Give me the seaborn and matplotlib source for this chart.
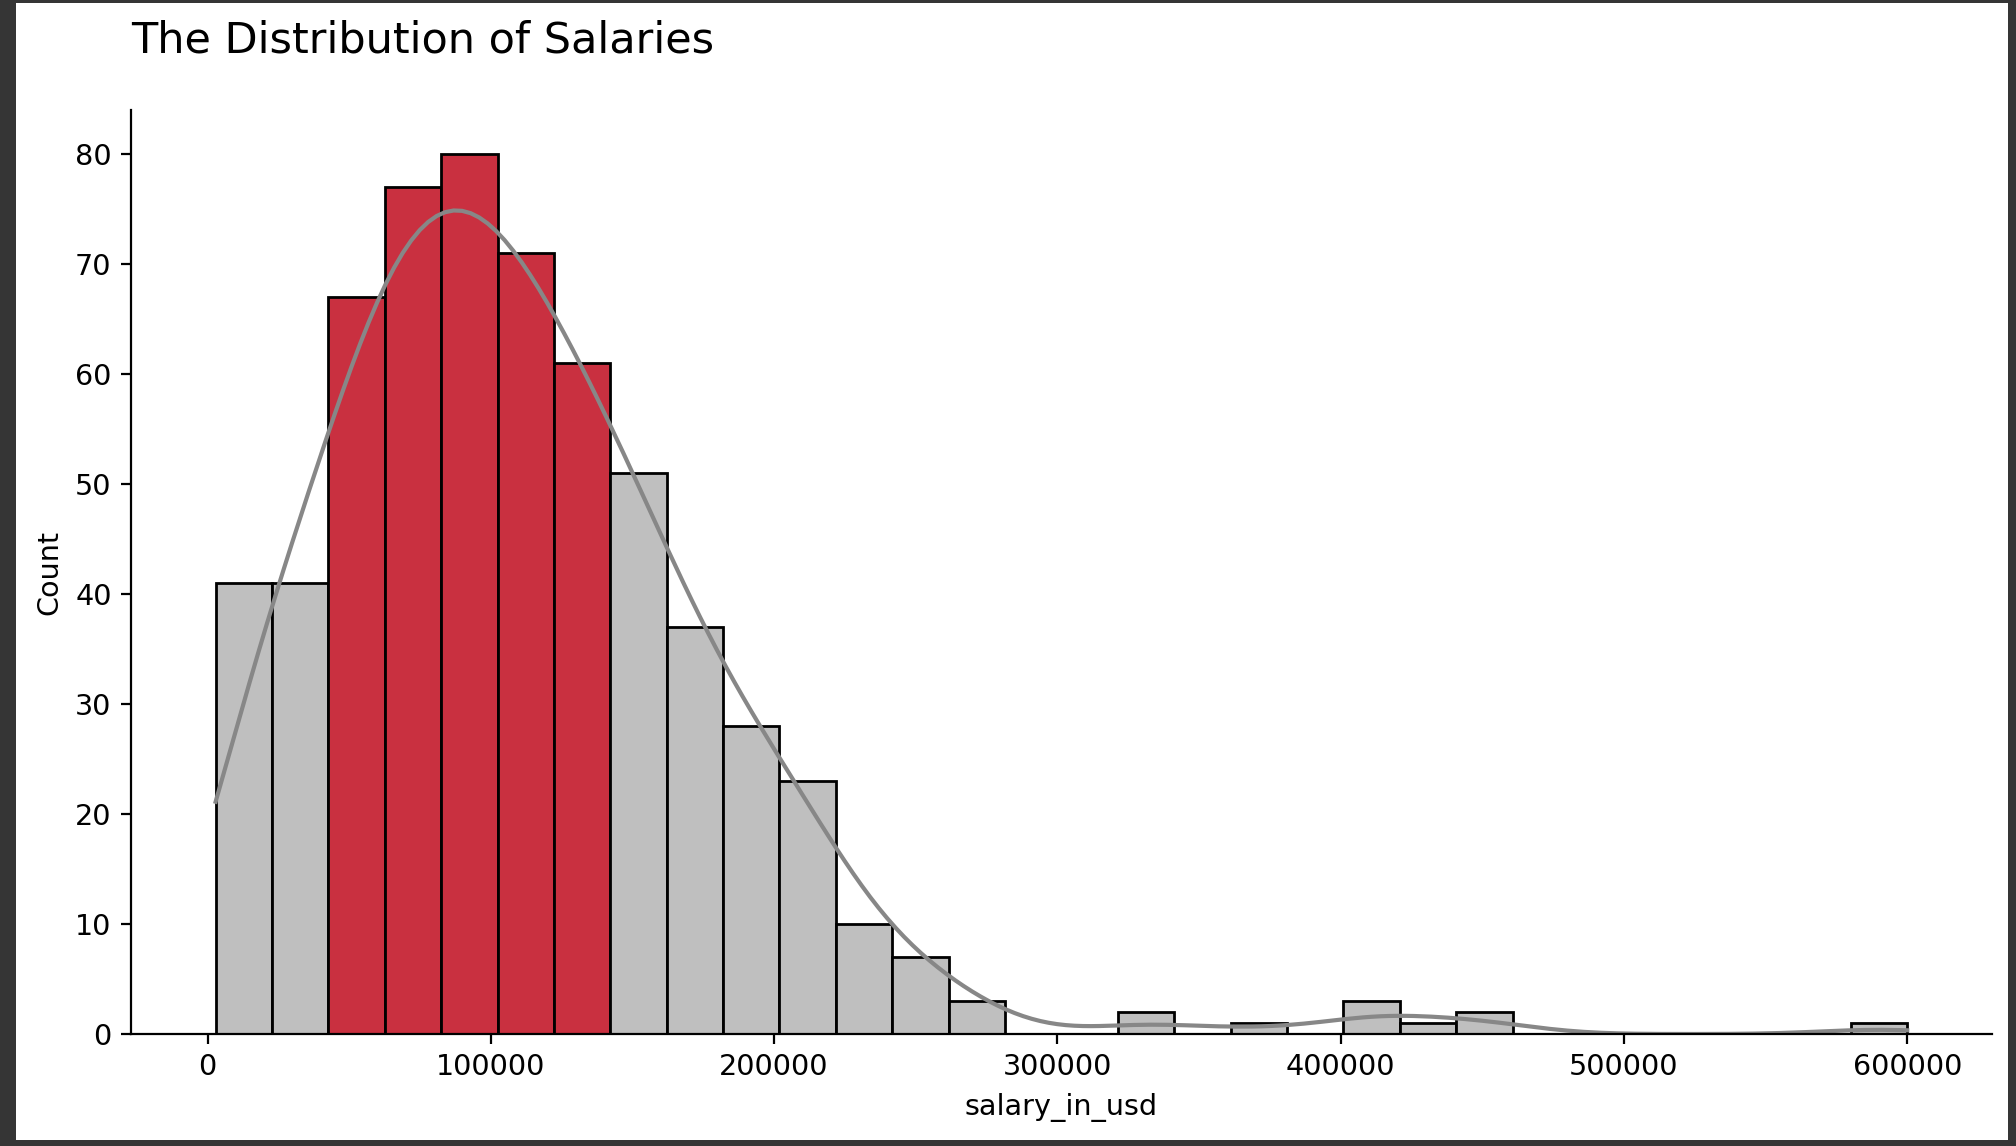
import matplotlib
matplotlib.use("Agg")

import matplotlib.pyplot as plt
import numpy as np
import pandas as pd
import seaborn as sns
from matplotlib.patches import Rectangle

# salary range and bin counts (30 equal bins)
SALARY_MIN = 2859
SALARY_MAX = 600000
N_BINS = 30
COUNTS = [41, 41, 67, 77, 80, 71, 61, 51, 37, 28,
          23, 10, 7, 3, 0, 0, 2, 0, 1, 0,
          3, 1, 2, 0, 0, 0, 0, 0, 0, 1]
HIGHLIGHT_BINS = [2, 3, 4, 5, 6]

GRAY = "#bfbfbf"
RED = "#c93040"
LINE = "#878787"

edges = np.linspace(SALARY_MIN, SALARY_MAX, N_BINS + 1)
centers = (edges[:-1] + edges[1:]) / 2
df = pd.DataFrame({"salary_in_usd": centers, "n": COUNTS})

plt.rcParams["font.family"] = ["DejaVu Sans"]

fig = plt.figure(figsize=(10.08, 5.73), dpi=200)
fig.patch.set_facecolor("#353535")
fig.patches.append(
    Rectangle((16 / 2016, 6 / 1146), 1 - 24 / 2016, 1 - 9 / 1146,
              transform=fig.transFigure, facecolor="white", edgecolor="none", zorder=-1)
)
ax = fig.add_axes([0.065, 0.0977, 0.923, 0.806])
ax.set_facecolor("white")

# weights shrink the effective sample size, so narrow the bandwidth back down
sns.histplot(
    data=df, x="salary_in_usd", weights="n", bins=list(edges), kde=True,
    color=LINE, edgecolor="black", linewidth=1.0, alpha=1,
    kde_kws={"cut": 1, "clip": (SALARY_MIN, SALARY_MAX), "bw_adjust": 0.45},
    line_kws={"linewidth": 1.5},
    ax=ax,
)

for i, patch in enumerate(ax.patches):
    patch.set_facecolor(RED if i in HIGHLIGHT_BINS else GRAY)

sns.despine(ax=ax)
ax.set_title("The Distribution of Salaries", loc="left", fontsize=15.5, pad=21)
ax.tick_params(labelsize=10.3)
ax.xaxis.label.set_size(10.3)
ax.yaxis.label.set_size(10.3)

fig.savefig("out.png", dpi=200, facecolor=fig.get_facecolor())
